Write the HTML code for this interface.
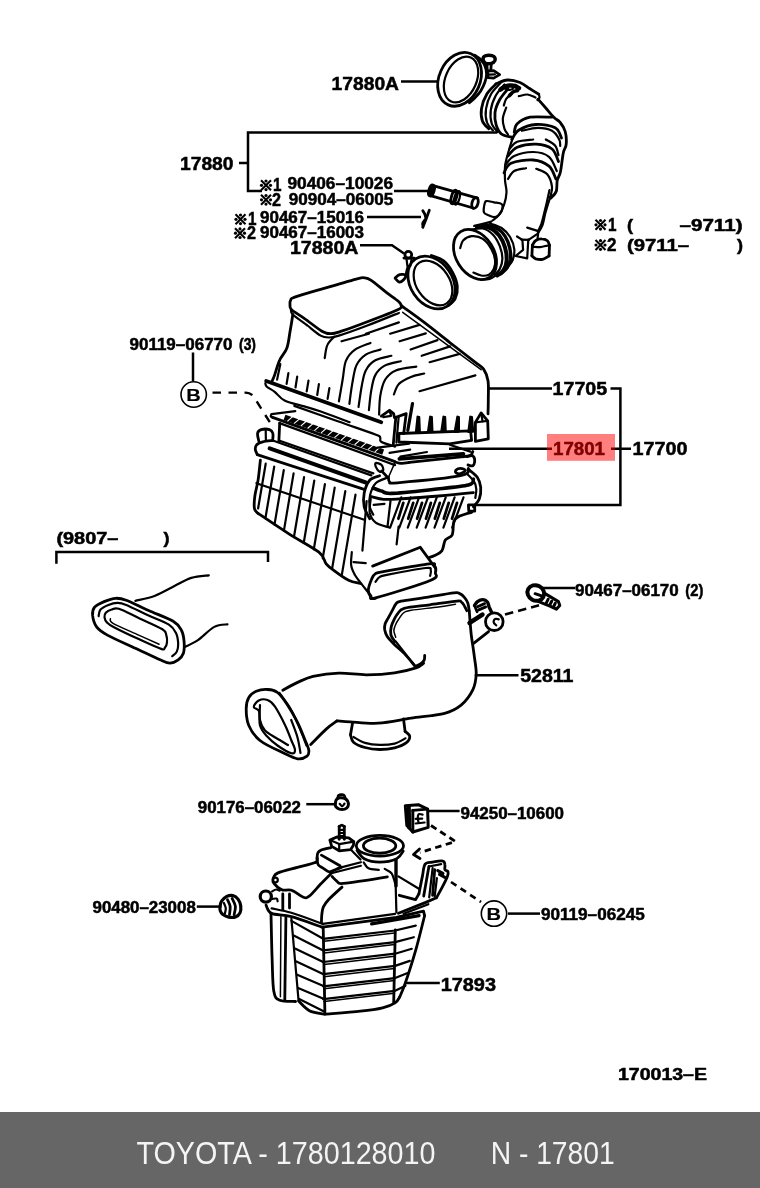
<!DOCTYPE html>
<html><head><meta charset="utf-8"><title>TOYOTA 1780128010</title>
<style>
html,body{margin:0;padding:0;background:#fff;}
body{width:760px;height:1188px;overflow:hidden;font-family:"Liberation Sans",sans-serif;}
svg{display:block;position:absolute;left:0;top:0;}
.tx{filter:grayscale(1);}
text{font-family:"Liberation Sans",sans-serif;font-weight:bold;fill:#000;stroke:#000;stroke-width:.5px;}
.ft text{font-weight:normal;fill:#f4f4f4;stroke:none;}
.l{fill:none;stroke:#000;stroke-width:2.2;stroke-linecap:round;stroke-linejoin:round;}
.t{fill:none;stroke:#000;stroke-width:1.5;stroke-linecap:round;stroke-linejoin:round;}
.k{fill:none;stroke:#000;stroke-width:2.8;stroke-linecap:round;stroke-linejoin:round;}
.w{fill:#fff;stroke:#000;stroke-width:2.2;stroke-linecap:round;stroke-linejoin:round;}
.ld{fill:none;stroke:#000;stroke-width:2.5;stroke-linecap:butt;}
.d{fill:none;stroke:#000;stroke-width:2;stroke-dasharray:9 6;}
</style></head><body>
<svg width="760" height="1188" viewBox="0 0 760 1188">
<rect x="0" y="0" width="760" height="1188" fill="#fff"/>
<!-- labels -->
<g class="tx"><g font-size="18">
<text x="331.6" y="90" textLength="67.4" lengthAdjust="spacingAndGlyphs">17880A</text>
<text x="180" y="169.5" textLength="53.5" lengthAdjust="spacingAndGlyphs">17880</text>
<text x="290" y="254" textLength="68.5" lengthAdjust="spacingAndGlyphs">17880A</text>
<text x="552.6" y="394.5" textLength="54.5" lengthAdjust="spacingAndGlyphs">17705</text>
<text x="553" y="455" textLength="52" lengthAdjust="spacingAndGlyphs">17801</text>
<text x="632.6" y="455" textLength="55" lengthAdjust="spacingAndGlyphs">17700</text>
<text x="520.2" y="681.8" textLength="53.3" lengthAdjust="spacingAndGlyphs">52811</text>
<text x="440.7" y="990.5" textLength="55.3" lengthAdjust="spacingAndGlyphs">17893</text>
</g>
<g font-size="16">
<g transform="translate(266 185.3)"><path d="M-5 -5L5 5M5 -5L-5 5" stroke="#000" stroke-width="2.1" fill="none"/><circle cx="0" cy="-4.3" r="1.6"/><circle cx="0" cy="4.3" r="1.6"/><circle cx="-4.5" cy="0" r="1.6"/><circle cx="4.5" cy="0" r="1.6"/></g><text font-size="18" x="273" y="191" textLength="8.5" lengthAdjust="spacingAndGlyphs">1</text>
<text x="287.5" y="189" textLength="105.5" lengthAdjust="spacingAndGlyphs">90406–10026</text>
<g transform="translate(266 199.8)"><path d="M-5 -5L5 5M5 -5L-5 5" stroke="#000" stroke-width="2.1" fill="none"/><circle cx="0" cy="-4.3" r="1.6"/><circle cx="0" cy="4.3" r="1.6"/><circle cx="-4.5" cy="0" r="1.6"/><circle cx="4.5" cy="0" r="1.6"/></g><text font-size="18" x="272" y="205.5" textLength="9" lengthAdjust="spacingAndGlyphs">2</text>
<text x="288.7" y="204.5" textLength="104.5" lengthAdjust="spacingAndGlyphs">90904–06005</text>
<g transform="translate(240.5 219.3)"><path d="M-5 -5L5 5M5 -5L-5 5" stroke="#000" stroke-width="2.1" fill="none"/><circle cx="0" cy="-4.3" r="1.6"/><circle cx="0" cy="4.3" r="1.6"/><circle cx="-4.5" cy="0" r="1.6"/><circle cx="4.5" cy="0" r="1.6"/></g><text font-size="18" x="248" y="225" textLength="8.5" lengthAdjust="spacingAndGlyphs">1</text>
<text x="260" y="222.5" textLength="104" lengthAdjust="spacingAndGlyphs">90467–15016</text>
<g transform="translate(240 233.2)"><path d="M-5 -5L5 5M5 -5L-5 5" stroke="#000" stroke-width="2.1" fill="none"/><circle cx="0" cy="-4.3" r="1.6"/><circle cx="0" cy="4.3" r="1.6"/><circle cx="-4.5" cy="0" r="1.6"/><circle cx="4.5" cy="0" r="1.6"/></g><text font-size="18" x="247" y="239" textLength="9" lengthAdjust="spacingAndGlyphs">2</text>
<text x="260" y="237.5" textLength="104" lengthAdjust="spacingAndGlyphs">90467–16003</text>
<g transform="translate(600.5 224.8)"><path d="M-5 -5L5 5M5 -5L-5 5" stroke="#000" stroke-width="2.1" fill="none"/><circle cx="0" cy="-4.3" r="1.6"/><circle cx="0" cy="4.3" r="1.6"/><circle cx="-4.5" cy="0" r="1.6"/><circle cx="4.5" cy="0" r="1.6"/></g><text font-size="18" x="608" y="230.5" textLength="8.5" lengthAdjust="spacingAndGlyphs">1</text>
<text x="627" y="230.5" textLength="6" lengthAdjust="spacingAndGlyphs">(</text>
<text x="679.5" y="230.5" textLength="63" lengthAdjust="spacingAndGlyphs">–9711)</text>
<g transform="translate(600.5 245)"><path d="M-5 -5L5 5M5 -5L-5 5" stroke="#000" stroke-width="2.1" fill="none"/><circle cx="0" cy="-4.3" r="1.6"/><circle cx="0" cy="4.3" r="1.6"/><circle cx="-4.5" cy="0" r="1.6"/><circle cx="4.5" cy="0" r="1.6"/></g><text font-size="18" x="607" y="250.7" textLength="9.5" lengthAdjust="spacingAndGlyphs">2</text>
<text x="627" y="250.7" textLength="62" lengthAdjust="spacingAndGlyphs">(9711–</text>
<text x="737" y="250.7" textLength="6" lengthAdjust="spacingAndGlyphs">)</text>
<text x="129.5" y="350" textLength="103" lengthAdjust="spacingAndGlyphs">90119–06770</text>
<text x="239" y="350" textLength="17" lengthAdjust="spacingAndGlyphs">(3)</text>
<text x="56.4" y="543.7" textLength="62" lengthAdjust="spacingAndGlyphs">(9807–</text>
<text x="163.4" y="543.7" textLength="6" lengthAdjust="spacingAndGlyphs">)</text>
<text x="575" y="595.7" textLength="103.7" lengthAdjust="spacingAndGlyphs">90467–06170</text>
<text x="685.3" y="595.7" textLength="18" lengthAdjust="spacingAndGlyphs">(2)</text>
<text x="197.8" y="813" textLength="103.2" lengthAdjust="spacingAndGlyphs">90176–06022</text>
<text x="460.5" y="819" textLength="103.5" lengthAdjust="spacingAndGlyphs">94250–10600</text>
<text x="92.5" y="913.2" textLength="103.3" lengthAdjust="spacingAndGlyphs">90480–23008</text>
<text x="541" y="920" textLength="103.7" lengthAdjust="spacingAndGlyphs">90119–06245</text>
<text x="618" y="1079.9" textLength="89" lengthAdjust="spacingAndGlyphs">170013–E</text>
</g>
<!-- B circles -->
<circle cx="193.7" cy="394.5" r="12.7" fill="#fff" stroke="#000" stroke-width="1.6"/>
<text x="186.3" y="400.6" font-size="17" style="stroke-width:.15px" textLength="14.5" lengthAdjust="spacingAndGlyphs">B</text>
<circle cx="494" cy="913.6" r="12.7" fill="#fff" stroke="#000" stroke-width="1.6"/>
<text x="486.6" y="919.8" font-size="17" style="stroke-width:.15px" textLength="14.5" lengthAdjust="spacingAndGlyphs">B</text>
</g>

<!-- leaders -->
<g class="ld">
<path d="M401 81.6H438"/>
<path d="M239 163H248M497 132.5H248V191H262"/>
<path d="M394 191H429"/>
<path d="M367 217H421"/>
<path d="M360 245.3H392L404 253.5"/>
<path d="M193 352.5V381"/>
<path d="M489 388.6H552M610.5 388.6H620.4V505H476"/>
<path d="M449 448.8H552M611 448.8H631"/>
<path d="M56.4 563.7V552H268V562"/>
<path d="M540.6 588H575"/>
<path d="M474.8 675.3H518.5"/>
<path d="M306.3 804.2H335"/>
<path d="M429 811H459.6"/>
<path d="M196.8 906.6H221.4"/>
<path d="M508 913.6H540"/>
<path d="M405 983H439.8"/>
</g>
<path class="d" d="M212.5 392.6H245Q251.5 392.6 254.5 398L270 422.5" style="stroke-width:2.4;stroke-dasharray:8.5 7.5"/>
<path class="d" d="M505 614.5L539 605.3" style="stroke-width:2.6;stroke-dasharray:8.5 5"/>
<path class="d" d="M431 825.5L455.5 841.5L420 852.5" style="stroke-width:2.8;stroke-dasharray:6.5 4.5"/>
<path d="M419.5 849L413.5 854.5L420 858.5" class="k"/>
<path class="d" d="M451 882L481 902" style="stroke-width:2.7;stroke-dasharray:6.5 5"/>

<!-- hose -->
<path class="k" d="M496.2 83.8C494.7 85.4 489.5 89.6 487 93.8C484.5 97.9 482.2 104.2 481.5 108.8C480.8 113.3 481.3 117.9 482.5 121.2C483.7 124.6 487.7 127.5 488.8 128.8"/>
<path class="l" d="M500.5 83C499 84.8 493.7 89.5 491.2 93.8C488.8 98 486.7 104 486 108.8C485.3 113.5 485.8 118.9 487 122.5C488.2 126.1 492 129.2 493 130.5"/>
<path class="l" d="M504.5 84.5C503 86.3 498 91.2 495.8 95.5C493.5 99.8 491.4 105.3 490.8 110C490.1 114.7 490.6 120.1 491.8 123.8C492.9 127.4 496.5 130.6 497.5 132"/>
<path class="k" d="M508 88.8C506.6 90.6 501.7 96 499.5 100C497.3 104 495.5 108.3 495 112.5C494.5 116.7 495.2 121.5 496.2 125C497.3 128.5 498.5 131.7 501.2 133.8C504 135.8 510.6 136.9 512.5 137.5"/>
<path class="k" d="M496.2 83.8C498.1 83.1 503.5 80.2 507.5 80C511.5 79.8 516.2 81 520 82.5C523.8 84 526.9 86.8 530 88.8C533.1 90.7 537.3 93.3 538.8 94.2"/>
<path class="k" d="M538 99.2C539.3 100.7 543.1 105 545.8 108C548.4 111 551.3 114.8 553.8 117.2C556.2 119.7 558.3 120.1 560.2 122.5C562.2 124.9 564.2 127.9 565.2 131.5C566.2 135.1 566.5 140.8 566.2 144.2C566 147.7 564.2 149.1 563.5 152C562.8 154.9 562.5 158 562 161.5C561.5 165 561 169.6 560.2 172.8C559.5 175.9 557.9 177.4 557.2 180.5C556.6 183.6 557.3 188.5 556.2 191.5C555.2 194.5 551.7 197.1 550.8 198.2"/>
<path class="l" d="M538.8 94.2C538.9 94.8 539.7 96.5 539.5 97.5C539.3 98.5 537.8 99.6 537.5 100"/>
<path class="k" d="M500.5 89.5C501.2 89 503.5 87.2 505 86.5C506.5 85.8 507.8 85.6 509.5 85.5C511.2 85.4 513.4 85.5 515 86C516.6 86.5 518.3 87.9 519 88.2" style="stroke-width:4.6"/>
<path class="k" d="M509.5 95.5C510.1 94.9 511.7 92.8 513 92C514.3 91.2 516.8 90.8 517.5 90.5" style="stroke-width:3.6"/>
<path class="l" d="M506.2 107.5C505.7 109.4 503 115.2 502.8 118.8C502.5 122.3 503.6 126.1 504.5 128.8C505.4 131.4 507.4 133.5 508 134.5"/>
<path class="l" d="M512 93.8C511 94.6 507.6 96.8 506.2 98.8C504.9 100.7 504.2 104.4 503.8 105.5"/>
<path class="l" d="M502.5 87.5C503.5 87.9 507 89.8 508.8 90C510.5 90.2 512.3 89 513 88.8"/>
<path class="l" d="M518.8 96.2C520.2 96 524.7 94.3 527.5 94.5C530.3 94.7 534.2 97 535.5 97.5"/>
<path class="k" d="M514.2 132.2C514.8 130.8 514.6 126.2 517.2 123.8C519.9 121.2 524.2 118.3 530 117.2C535.8 116.2 548.3 117.2 552 117.2"/>
<path class="k" d="M511.8 139.5C513 137.9 514.9 132.5 519 130C523.1 127.5 530.2 124.9 536.2 124.5C542.3 124.1 551 125.5 555.2 127.8C559.5 130 560.5 136.3 561.5 138"/>
<path class="l" d="M522 130.8C524.7 130.2 533 127.8 538 127.8C543 127.8 548.5 128.8 552 130.8C555.5 132.7 557.9 137 559.2 139.5C560.6 142 560.1 144.7 560.2 145.8"/>
<path class="l" d="M509.5 149C510.8 147.8 513.3 143.3 517.2 141.8C521.2 140.2 530.6 139.9 533.2 139.5"/>
<path class="l" d="M545.8 139.5C547.3 140.5 553.1 143.1 555.2 145.8C557.4 148.4 558 153.7 558.5 155.2"/>
<path class="k" d="M508 156C509.5 154.5 512.5 149.2 517.2 147.2C522 145.3 530.5 144 536.2 144.2C542 144.5 548.3 146.1 552 149C555.7 151.9 557.4 159.4 558.5 161.5"/>
<path class="l" d="M505.5 164.8C507 163.3 509.6 158.1 514.2 156C518.9 153.9 527.5 151.9 533.2 152C539 152.1 545.1 153.6 549 156.8C552.9 159.9 555.5 168.6 556.8 171"/>
<path class="k" d="M504 172.8C505.2 171.2 506.1 165.4 511 163.2C515.9 161.1 526.9 159.5 533.2 160C539.6 160.5 545.2 163.1 549 166.2C552.8 169.4 554.8 176.9 556 179"/>
<path class="l" d="M508 179C509 177.7 511.2 172.8 514.2 171C517.2 169.2 524 168.7 526 168.2"/>
<path class="l" d="M536.2 168.8C538.1 169.7 544.6 171.2 547.2 174.2C549.9 177.2 551.5 183.1 552 186.8C552.5 190.4 550.8 194.7 550.5 196.2"/>
<path class="l" d="M513 137.5C512.3 139.6 510.3 145.4 509 150C507.7 154.6 505.9 160 505.2 165C504.6 170 504.8 175.4 505 180C505.2 184.6 506.7 188.3 506.5 192.5C506.3 196.7 505.3 201.2 504 205C502.7 208.8 500.7 212.4 498.8 215C496.8 217.6 493.5 219.6 492.5 220.5"/>
<path class="l" d="M550 198C549.2 200.4 546.8 208 545.5 212.5C544.2 217 543.8 221.6 542.5 225C541.2 228.4 538.8 231.7 538 233"/>
<ellipse class="k" cx="475" cy="254.5" rx="27" ry="19" transform="rotate(58 475 254.5)"/>
<path class="l" d="M460.2 248.2C460.7 246.9 461.2 242.5 463.1 240.5C465 238.5 468.4 236.5 471.6 236.2C474.9 235.9 479.5 236.6 482.8 238.8C486 240.9 489.3 245.4 491.3 249C493.4 252.6 494.7 256.9 495.1 260.1C495.5 263.4 494.9 266.3 493.9 268.7C492.8 271.1 490.9 273.5 488.8 274.7C486.6 275.8 483.6 275.9 481.1 275.5C478.5 275.2 474.6 273.1 473.4 272.6"/>
<path class="l" d="M470.8 229.7C472.8 229.5 479.1 227.6 482.8 228.5C486.5 229.3 490.2 231.8 493 234.8C495.9 237.8 498.3 242.5 499.9 246.4C501.4 250.4 502.4 254.7 502.4 258.4C502.4 262.1 501.2 266 499.9 268.7C498.6 271.4 495.6 273.7 494.7 274.7"/>
<path class="k" d="M476.8 226.8C478.9 227 485.9 226.5 489.6 228C493.3 229.4 496.4 232.1 499 235.3C501.6 238.6 503.7 243.2 505 247.3C506.3 251.4 506.9 256.3 506.7 260.1C506.5 263.9 505.2 267.5 503.6 270.1C502.1 272.6 498.4 274.6 497.3 275.5" style="stroke-width:4"/>
<path class="k" d="M483.6 225.1C485.8 225.6 492.9 226.1 496.4 228C500 229.8 502.8 232.8 505 236.2C507.2 239.5 508.9 244.3 509.8 248.2C510.7 252 510.9 256 510.5 259.3C510 262.6 508.7 265.4 507.1 267.8C505.4 270.3 501.8 272.8 500.7 273.8" style="stroke-width:3.4"/>
<path class="l" d="M489.6 223.4C491.6 224.1 498.2 225.7 501.6 228C505 230.3 508 233.4 510.1 237C512.3 240.7 514 246 514.4 249.9C514.8 253.7 513.7 257.4 512.7 260.1C511.7 262.8 509.1 265.1 508.4 266.1"/>
<path class="l" d="M474.2 225.9C475.6 225.6 479.9 224.6 482.8 223.9C485.6 223.2 489.9 222 491.3 221.6"/>
<path class="l" d="M481.1 279.8C482.5 279.7 487 279.7 489.6 278.9C492.2 278.1 495.3 275.7 496.4 275"/>
<path class="l" d="M486.2 201.1C487.8 200.5 491.3 201.8 493.9 202.3C496.4 202.8 500.2 202.9 501.6 204C503 205.1 502.7 207.2 502.4 208.8C502.1 210.5 501.1 212.6 499.9 213.9C498.6 215.3 496.9 216.8 495.1 217C493.2 217.3 490.6 216.1 488.8 215.3C486.9 214.6 484.7 214.1 484 212.6C483.2 211.1 483.8 208.2 484.1 206.2C484.5 204.3 484.6 201.8 486.2 201.1Z"/>
<path class="l" d="M517 236.5L522.4 239.9L523.1 249.9L515.6 256L527.2 258.4L528.3 239.6"/>
<path class="l" d="M521.2 239.6L528.9 239.9"/>
<path class="k" d="M532.4 245.1C532.9 244.3 534.2 241.5 535.8 240.5C537.4 239.4 539.8 238.7 541.8 238.8C543.7 238.8 546.1 239.7 547.4 240.8C548.7 241.9 549.1 244.4 549.5 245.1"/>
<path class="k" d="M532.4 245.1L531.9 255.9"/>
<path class="k" d="M549.5 245.1L549.1 255.9"/>
<path class="k" d="M531.9 255.9C532.5 256.3 534 258.2 535.8 258.8C537.6 259.3 540.4 259.8 542.6 259.3C544.9 258.8 548 256.4 549.1 255.9"/>
<path class="l" d="M533.2 246.8C534.4 246.8 537.7 247.3 540.1 247.1C542.4 246.9 546.2 245.8 547.4 245.6"/>
<path class="l" d="M527.2 227.6L538.4 231.1L537.5 239.1"/>
<path class="l" d="M528.9 239.6L537.8 233.6"/>
<path class="l" d="M556.8 190C556.3 190.9 555 193.9 553.8 195.1C552.5 196.3 550.2 196.8 549.5 197.2"/>
<path class="l" d="M549.5 190C549 192 547.8 198 546.9 202C546 206 544.9 210.2 544 213.9C543.1 217.7 542.3 221.2 541.3 224.2C540.2 227.2 538.4 230.6 537.8 231.9"/>

<!-- clamps -->
<ellipse class="k" cx="459.6" cy="79.3" rx="20.5" ry="28" transform="rotate(24 459.6 79.3)"/>
<ellipse class="l" cx="461" cy="79.5" rx="15.5" ry="24" transform="rotate(24 461 79.5)"/>
<path class="k" d="M474.7 55.2C475.7 55.9 479 57.8 480.7 59.5C482.3 61.3 483.8 63 484.8 65.5C485.8 67.9 486.6 71.5 486.6 74.3C486.6 77.2 485.8 79.9 484.8 82.6C483.8 85.4 482.3 88.4 480.7 90.9C479 93.5 476.6 96.1 474.7 98C472.9 100 470.3 102 469.4 102.8"/>
<path class="k" d="M484 56.6C484.9 55.8 487.3 55.2 488.9 55.2C490.6 55.2 492.9 55.7 493.9 56.6C494.9 57.5 495.3 59.6 494.9 60.7C494.4 61.9 492.9 63.1 491.3 63.4C489.7 63.8 486.7 63.6 485.4 63.1C484.1 62.5 483.5 61.2 483.3 60.1C483 59 483 57.4 484 56.6Z" style="stroke-width:3.4"/>
<path class="k" d="M486.8 63.7L487.3 71"/>
<path class="k" d="M491.3 63.7L490.8 70.2"/>
<path class="k" d="M487.8 71L493.7 70.6L499.6 74.6L493.7 78.1L488 77.7Z"/>
<path class="l" d="M489.5 74.6L494.9 74.3"/>
<ellipse class="k" cx="431.5" cy="282.5" rx="28.5" ry="21" transform="rotate(56 431.5 282.5)"/>
<ellipse class="l" cx="433" cy="283" rx="24.5" ry="16.5" transform="rotate(56 433 283)"/>
<path class="k" d="M431.3 255.5C433.3 256.4 439.7 257.8 443.3 260.7C446.9 263.5 450.4 268.4 452.7 272.6C455 276.9 456.9 282 457.3 286.3C457.7 290.6 456.7 295.1 455.3 298.3C453.8 301.5 449.6 304.3 448.4 305.5"/>
<circle class="k" cx="408.3" cy="254.8" r="3.4"/>
<path class="k" d="M403.9 258.1L414.2 258.1"/>
<path class="l" d="M406.5 258.9L407.4 265.8"/>
<path class="l" d="M411.6 258.9L410.4 265.8"/>
<path class="l" d="M408.2 265.8C407.9 266.6 406.9 269.2 406.5 270.9C406.1 272.6 405.8 275.2 405.7 276.1"/>
<path class="k" d="M395.1 278.1C395.8 277.5 397.9 275.2 399.7 274.7C401.4 274.2 404.9 274.4 405.7 275.2C406.4 276 405 278.3 403.9 279.5C402.9 280.6 400.6 282.3 399.2 282C397.7 281.8 395.7 278.8 395.1 278.1"/>
<ellipse class="k" cx="431.5" cy="190.5" rx="2.6" ry="5.6" transform="rotate(16 431.5 190.5)" fill="#000" style="fill:#000"/>
<path class="k" d="M432.2 185.4L477.5 198.2"/>
<path class="k" d="M430.5 195.7L473.2 208"/>
<ellipse class="k" cx="475" cy="203" rx="3" ry="5.6" transform="rotate(16 475 203)"/>
<ellipse class="k" cx="454" cy="197" rx="2.6" ry="7" transform="rotate(16 454 197)"/>
<ellipse class="l" cx="457" cy="197.8" rx="2.6" ry="7" transform="rotate(16 457 197.8)"/>
<path class="k" d="M429.3 210.2C428.8 211.5 427.6 215 426.5 217.9C425.4 220.7 423.4 225.7 422.8 227.3"/>
<path class="k" d="M422.8 210.7C423.1 211.3 424.3 212.9 424.8 214.1C425.3 215.3 425.7 217.3 425.8 217.9"/>
<path class="l" d="M424.8 219.6C424.4 220.2 422.7 222.1 422.4 223.4C422.1 224.7 423 226.6 423.1 227.3"/>

<!-- cover -->
<path class="k" d="M290 305C289.8 303.4 289.8 301.6 290.6 300.3C291.4 298.9 289.3 299.1 294.7 297.1C300.2 295.2 312.9 291.6 323.2 288.6C333.4 285.6 349.5 280.9 356.3 279.1C363.2 277.3 361.7 277.6 364.2 277.8C366.7 278.1 367.5 277.9 371.2 280.4C374.8 282.8 381.8 288.9 386.3 292.4C390.8 295.8 395.8 299 398.3 301.2C400.8 303.4 401.3 304.2 401.2 305.6C401.1 307.1 403.3 307.1 397.7 309.7C392.1 312.4 376.7 318.2 367.4 321.7C358 325.3 347.5 329.2 341.5 331.2C335.4 333.2 334.3 333.7 331.1 333.7C327.8 333.7 326.4 333.8 321.9 331.2C317.4 328.6 309.3 321.8 304.2 318.3C299.2 314.7 293.9 311.9 291.6 309.7C289.2 307.5 290.2 306.6 290 305Z"/>
<path class="l" d="M290.9 309.7C291.3 310.5 290.1 311.8 292.8 314.5C295.6 317.1 302.7 322 307.4 325.5C312 329.1 317.1 333.6 320.6 335.6C324.2 337.6 325.8 337.5 328.8 337.5C331.9 337.5 332.5 337.6 338.9 335.6C345.4 333.6 357.4 329.3 367.4 325.5C377.4 321.7 393.7 315 398.9 312.9"/>
<path class="k" d="M292.8 314.5C292.4 317.4 291 326.2 290 331.8C289 337.5 288.6 343.5 286.8 348.3C285.1 353 281.6 355.7 279.6 360.3C277.5 364.8 275.8 371.9 274.5 375.4C273.3 378.9 272.4 380.2 272 381.1"/>
<path class="k" d="M401.2 305.6C405 308.4 416.2 316.3 424.2 322.4C432.3 328.5 441.1 335.7 449.5 342.3C457.9 348.8 469.1 357.4 474.7 361.8C480.4 366.3 481.4 365.9 483.6 369.1C485.8 372.3 487.2 375.9 488 380.8C488.8 385.6 488.3 392.6 488.3 398.2C488.3 403.7 488.1 411.3 488 413.9"/>
<path class="t" d="M402.7 312.3L481.1 369.7"/>
<path class="l" d="M324.7 358.1C325.2 355.9 325.7 348.7 327.3 345.1C328.8 341.5 333.1 338 334.2 336.6"/>
<path class="l" d="M338.9 401.3C339.6 397.6 341.6 385.9 342.7 379.2C343.9 372.5 343.9 365.8 345.9 360.9C347.9 356 350.6 352.8 354.7 349.8C358.8 346.8 367.9 344.1 370.5 342.9"/>
<path class="l" d="M349.4 403.8C349.8 400.5 351.1 390.3 352.2 383.9C353.4 377.6 354.1 370.5 356.3 365.6C358.6 360.7 361.7 357.3 365.8 354.6C369.8 351.9 378.2 350.4 380.6 349.5"/>
<path class="l" d="M358.5 407C359.1 403.5 360.5 392.3 361.7 386.2C362.9 380.1 363.5 374.7 365.8 370.4C368.1 366.1 371 362.7 375.3 360.3C379.5 357.8 388.7 356.6 391.4 355.8"/>
<path class="l" d="M368.9 410.2C369.3 406.9 370.1 396.7 371.2 390.9C372.2 385.1 373 379.3 375.3 375.1C377.5 370.9 380.5 367.9 384.7 365.6C389 363.3 398.2 361.9 400.8 361.2"/>
<path class="l" d="M379.1 414.6C379.3 411.4 379.3 401.4 380.3 395.6C381.3 389.8 382.5 384.1 385.1 379.8C387.6 375.6 390.6 372.6 395.8 370.4C401 368.2 412.9 367.2 416.3 366.6"/>
<path class="l" d="M393.9 394.4C394.7 392.6 396 386.9 398.9 383.9C401.9 381 407.4 378.4 411.6 376.7C415.8 374.9 422.1 374.1 424.2 373.5"/>
<path class="l" d="M341.5 341.3L368.9 333.7"/>
<path class="l" d="M365.8 333.7L398.9 322.4"/>
<path class="l" d="M390.1 333.7L419.5 324.9"/>
<path class="l" d="M399.6 341.3L425.8 333.4"/>
<path class="l" d="M410.6 349.5L437.5 340.1"/>
<path class="l" d="M421.7 355.8L450.1 346.4"/>
<path class="l" d="M429.6 362.2L459.6 353.9"/>
<path class="l" d="M419.5 391.2L475.4 375.4"/>
<path class="l" d="M416 431.9L417.6 416.7L419.2 417.1L419.8 431.6Z" style="fill:#000"/>
<path class="l" d="M428 431.9L430.2 416.7L431.8 417.1L432.4 431.6Z" style="fill:#000"/>
<path class="l" d="M441.3 431.9L443.5 416.7L445.1 417.1L445.7 431.6Z" style="fill:#000"/>
<path class="l" d="M454.7 431.9L457.4 416.7L458.9 417.1L458.9 431.6Z" style="fill:#000"/>
<path class="l" d="M468.4 431.9L470.3 416.7L471.9 417.1L473.2 431.6Z" style="fill:#000"/>
<path class="k" d="M412.5 403.5L407.8 430.3" style="stroke-width:3.2"/>
<path class="k" d="M398.9 433.5L470.6 430.9L471.6 440.4L449.5 443.9L398.9 442Z"/>
<path class="k" d="M475.4 422.4L481.1 412.9L487.7 420.8L488.3 438.8L475.4 441.4Z"/>
<path class="l" d="M475.4 422.4L482.6 421.5L487.7 420.8"/>
<path class="l" d="M481.1 412.9L482.6 421.5"/>
<path class="l" d="M470.6 430.9L475.4 430"/>
<path class="k" d="M381.3 416.1L389.5 410.4L393.6 413.6L394.5 417.7L406.2 413.6L403.7 433.5"/>
<path class="l" d="M383.2 417.1L391.1 415.8L389.5 410.4"/>
<path class="k" d="M395.8 417.7L393.3 444.2"/>
<path class="l" d="M398.6 417.4L396.4 442.6"/>
<path class="k" d="M266.2 381L381.3 422.2" style="stroke-width:3.8"/>
<path class="l" d="M265.3 383.2C265.5 383.8 265.3 385.3 266.8 386.7C268.4 388.2 271.8 389.5 274.7 391.8C277.7 394.1 279.7 398.1 284.6 400.5C289.5 403 298.4 404.7 304.3 406.4C310.3 408.2 312.6 408.6 320.1 411.2C327.7 413.8 344.8 420.4 349.7 422.2"/>
<path class="l" d="M286.6 383.9L288.4 373.1"/>
<path class="l" d="M295.5 387.5L297.2 376.6"/>
<path class="l" d="M306.7 391.4L308.5 380.6"/>
<path class="l" d="M317.2 395L318.9 384.1"/>
<path class="l" d="M327.6 398.9L329.4 388.1"/>
<path class="l" d="M277.1 379.6L280.3 364.2"/>

<!-- filter -->
<path class="l" d="M271.6 414.2L295.3 411.1"/>
<path class="l" d="M271.6 414.2C271.5 414.5 270.5 415.6 270.7 416.2C270.8 416.8 272.3 417.5 272.6 417.8"/>
<path class="k" d="M272.6 417.4L395 461.6"/>
<path class="l" d="M279.5 423.1L395 465.1"/>
<path class="k" d="M279.7 423.1L278.9 440.5"/>
<path class="l" d="M278.9 440.5L373.3 473.4"/>
<path class="k" d="M284.5 417.4L383.2 452.1" style="stroke-width:5.6;stroke-linecap:butt"/>
<path class="t" d="M287.8 420.9L292.6 416.7" style="stroke-width:1.1;stroke:#fff;stroke:#fff"/>
<path class="t" d="M294.5 423.2L299.3 419.1" style="stroke-width:1.1;stroke:#fff;stroke:#fff"/>
<path class="t" d="M301.2 425.6L306 421.5" style="stroke-width:1.1;stroke:#fff;stroke:#fff"/>
<path class="t" d="M308 428L312.7 423.8" style="stroke-width:1.1;stroke:#fff;stroke:#fff"/>
<path class="t" d="M314.7 430.3L319.4 426.2" style="stroke-width:1.1;stroke:#fff;stroke:#fff"/>
<path class="t" d="M321.4 432.7L326.1 428.5" style="stroke-width:1.1;stroke:#fff;stroke:#fff"/>
<path class="t" d="M328.1 435.1L332.8 430.9" style="stroke-width:1.1;stroke:#fff;stroke:#fff"/>
<path class="t" d="M334.8 437.4L339.5 433.3" style="stroke-width:1.1;stroke:#fff;stroke:#fff"/>
<path class="t" d="M341.5 439.8L346.2 435.6" style="stroke-width:1.1;stroke:#fff;stroke:#fff"/>
<path class="t" d="M348.2 442.1L353 438" style="stroke-width:1.1;stroke:#fff;stroke:#fff"/>
<path class="t" d="M354.9 444.5L359.7 440.4" style="stroke-width:1.1;stroke:#fff;stroke:#fff"/>
<path class="t" d="M361.6 446.9L366.4 442.7" style="stroke-width:1.1;stroke:#fff;stroke:#fff"/>
<path class="t" d="M368.4 449.2L373.1 445.1" style="stroke-width:1.1;stroke:#fff;stroke:#fff"/>
<path class="t" d="M375.1 451.6L379.8 447.4" style="stroke-width:1.1;stroke:#fff;stroke:#fff"/>
<path class="l" d="M294.3 405.9C301.6 408.5 324.3 416.5 337.8 421.3C351.3 426.1 368.2 431.8 375.3 434.5C382.3 437.2 379.2 436.3 380.2 437.5C381.2 438.7 378.7 440.3 381.2 441.8C383.7 443.4 392.7 445.8 395 446.6"/>
<path class="k" d="M258.8 441.1C258.6 439.7 257.2 435.1 257.6 433.2C258 431.2 259.2 430.2 261.2 429.6C263.2 429 267.5 429 269.5 429.6C271.4 430.2 272.3 431.5 272.8 433.2C273.4 434.8 272.8 438.4 272.8 439.5"/>
<path class="l" d="M265.7 430L265.9 440.5"/>
<path class="k" d="M272.8 440.5C271.2 440.7 265.4 441.2 262.8 441.8C260.1 442.5 258.1 443.4 256.8 444.6C255.6 445.9 255.2 447.7 255.3 449.3C255.3 451 256.9 453.5 257.2 454.3"/>
<path class="l" d="M272.8 440.5L371.3 475.4"/>
<path class="k" d="M269.7 448.4L365.8 482.5" style="stroke-width:4"/>
<path class="k" d="M257.2 454.7L363.4 489.2"/>
<path class="k" d="M395 462C396.1 462.3 398.9 463.4 401.3 463.4C403.7 463.5 407.9 462.6 409.2 462.4"/>
<path class="k" d="M409.2 462.4L463.5 456.7"/>
<path class="k" d="M463.5 456.7C464.7 456.4 469.2 456 470.8 455.1C472.3 454.3 472.4 452.2 472.8 451.6"/>
<path class="l" d="M449.7 444.7L470.4 451.6"/>
<path class="k" d="M399.3 458.9L463.5 453.9" style="stroke-width:3.6"/>
<path class="l" d="M389.5 452.8L410.2 449.6"/>
<path class="l" d="M400.3 456.7L427 452"/>
<path class="l" d="M377.6 447.6L409.2 443.7"/>
<path class="k" d="M388.5 477.2C388.7 478 388 480.7 389.5 481.6C391 482.5 385.5 483.8 397.4 482.8C409.2 481.8 448.7 478.1 460.5 475.7C472.4 473.3 467.1 469.6 468.4 468.4"/>
<path class="t" d="M395 462.4L388.5 477.2"/>
<path class="l" d="M375.7 463C376.6 462.6 380.3 463.8 381.6 465C382.8 466.2 383.5 469.2 383.2 470.3C382.8 471.4 380.8 472.2 379.6 471.7C378.4 471.2 376.7 468.8 376.1 467.4C375.4 465.9 374.7 463.4 375.7 463Z"/>
<path class="k" d="M381.6 470.9L387.5 477.2"/>
<path class="k" d="M379.6 475.7C378 476.4 372.3 477.3 369.7 480.2C367.2 483.1 365.1 488.6 364.2 493C363.3 497.5 363.3 502.6 364.2 506.8C365.1 511.1 368.8 516.7 369.7 518.7"/>
<path class="l" d="M387.5 477.6C385.5 478.6 378.6 480.3 375.7 483.2C372.8 486.1 371.1 491.1 370.1 495C369.1 498.9 369.2 503.6 369.7 506.8C370.3 510.1 372.7 513.4 373.3 514.7"/>
<path class="k" d="M373.3 488.1C374.7 488.6 378.6 490.2 381.6 491.1C384.6 491.9 382.9 493.7 391.4 493.4C400 493.2 420.1 490.9 432.9 489.5C445.7 488.1 461.7 486.8 468.4 485.1C475.2 483.4 472.5 480.2 473.4 479.2" style="stroke-width:3.6"/>
<path class="k" d="M371.3 496.6C373.4 497 378.9 498.9 383.6 499.3C388.2 499.7 390.1 499.5 399.3 498.9C408.6 498.4 426.5 497 438.8 496C451.2 494.9 467.6 493.2 473.4 492.6"/>
<path class="k" d="M466.8 456.5C467.8 456.4 471.4 455.3 472.8 455.9C474.1 456.6 474.7 458.8 474.7 460.5C474.7 462.1 473.9 465 472.8 465.8C471.6 466.5 468.8 465.1 468 465"/>
<path class="k" d="M455.8 470.3C456.5 469.6 458.9 468.4 460.5 468.4C462.1 468.4 465.5 469.4 465.5 470.3C465.5 471.2 462.1 473.3 460.5 473.7C459 474.1 457 473.5 456.2 472.9C455.4 472.3 455.1 471.1 455.8 470.3Z"/>
<path class="k" d="M468.4 469.3C469.9 470.7 475.3 474.3 477.3 477.2C479.3 480.2 480.3 483.5 480.7 487.1C481 490.7 480.5 495.7 479.3 498.9C478.1 502.2 474.3 505.5 473.4 506.8"/>
<path class="l" d="M466.4 473.3C467.7 474.6 472.3 478.6 473.9 481.2C475.6 483.8 476.1 486.3 476.3 489.1C476.5 491.9 475.5 496.5 475.3 498"/>
<path class="k" d="M468.4 504.9L474.7 504.9L474.7 511.2L468.8 511.2Z"/>
<path class="l" d="M401.3 497.4L390.1 527.6"/>
<path class="l" d="M410.6 497.4L399.3 527.6"/>
<path class="l" d="M419.1 497.4L407.8 527.6"/>
<path class="l" d="M428 497.4L416.7 527.6"/>
<path class="l" d="M436.8 497.4L425.6 527.6"/>
<path class="l" d="M445.7 497.4L434.5 527.6"/>
<path class="l" d="M454.6 497.4L443.4 527.6"/>
<path class="l" d="M463.5 497.4L452.2 527.6"/>
<path class="k" d="M403.3 502.9L398.4 518.7"/>
<path class="k" d="M413.2 502.9L408.2 518.7"/>
<path class="k" d="M422 502.9L417.1 518.7"/>
<path class="k" d="M430.9 502.9L426 518.7"/>
<path class="k" d="M439.8 502.9L434.9 518.7"/>
<path class="k" d="M448.7 502.9L443.8 518.7"/>
<path class="k" d="M457 502.9L452 518.7"/>
<path class="l" d="M370.7 498.9C370.6 501.2 368.9 508.8 369.7 512.8C370.6 516.7 372.4 520.2 375.7 522.6C378.9 525.1 387.2 526.7 389.5 527.6"/>
<path class="l" d="M390.5 500.9L387.5 526.6"/>
<path class="l" d="M373.7 504.9L384.5 503.9"/>

<!-- case -->
<path class="k" d="M260.4 460.1C260 463.4 259 473.8 258.1 479.9C257.2 485.9 255.4 491.5 254.8 496.3C254.2 501.1 253.9 506 254.5 508.8C255 511.7 257.5 512.7 258.1 513.4"/>
<path class="k" d="M258.1 513.4C263.3 516.9 279.2 527.7 289.3 534.1C299.5 540.6 312.8 547.3 318.9 552.2C325.1 557.2 323.7 560.7 326.2 563.8C328.7 566.8 330 567.6 333.8 570.3C337.5 573.1 344.2 578 348.6 580.2C352.9 582.4 358.1 582.9 360.1 583.5"/>
<path class="l" d="M265.7 463.7L258.1 508.5"/>
<path class="l" d="M274.2 466.7L265.4 518.3"/>
<path class="l" d="M283.8 470L274.5 524.6"/>
<path class="l" d="M293.6 473.4L283.9 530.6"/>
<path class="l" d="M304.1 477L293.9 537.2"/>
<path class="l" d="M314.3 480.5L303.7 543"/>
<path class="l" d="M324.9 484.2L313.8 549.3"/>
<path class="l" d="M334.7 487.6L322.7 558.3"/>
<path class="l" d="M345.3 491.2L332 569.2"/>
<path class="l" d="M355.5 494.7L341.7 575.6"/>
<path class="l" d="M256.4 483.2L365 520"/>
<path class="l" d="M366.6 501.2L362.4 550.6"/>
<path class="l" d="M398.6 526.6L396.6 544.3"/>
<path class="l" d="M353.5 562.1L365.7 563.1"/>
<path class="l" d="M351.8 552.2C351.7 554.4 350.6 561.6 351.2 565.4C351.7 569.2 353.3 572 355.1 575.3C357 578.6 360.1 582.1 362.4 585.1C364.7 588.1 367.9 592 368.9 593.4"/>
<path class="k" d="M471.9 512.1C469.7 512.9 461.4 515.1 458.4 516.7C455.4 518.3 454.9 518.6 453.8 521.6C452.8 524.7 453.6 531.7 452.2 534.8C450.7 537.9 447 537.4 445.3 540.1C443.6 542.7 443.7 548 442 550.6C440.2 553.2 436.9 554.4 434.7 555.5C432.5 556.7 429.8 557.2 428.8 557.5"/>
<path class="k" d="M372.6 566.1L420.3 547.3L435.4 568"/>
<path class="k" d="M371.6 579.2C372.8 576.5 373.3 574.9 375.5 573.6C377.7 572.3 375.8 573 384.7 571.3C393.7 569.7 420.8 564.6 429.1 563.8C437.5 562.9 433.7 564.6 434.7 566.1C435.8 567.5 436.1 570.3 435.4 572.6C434.7 575 440.6 576 430.8 580.2C421 584.4 386.5 595.1 376.5 597.6C366.5 600.2 372.3 596.9 370.9 595.7C369.6 594.4 368.2 592.8 368.3 590.1C368.4 587.3 370.4 582 371.6 579.2Z"/>
<path class="l" d="M375.5 581.8C376.2 581 377.7 578.1 379.8 576.9C381.9 575.7 380.4 576.1 388 574.6C395.7 573.1 418.7 568.7 425.9 568C433 567.3 430.1 569 430.8 570.3C431.5 571.6 430.2 575 430.1 575.9"/>
<path class="k" d="M368.9 593.4C369.4 594.2 370.5 597.5 371.6 598.3C372.7 599.1 374.9 598.3 375.5 598.3"/>

<!-- duct -->
<path class="k" d="M415.3 666.4C413.5 664.3 407.8 657.2 404.2 653.4C400.6 649.7 396.8 646.9 393.9 644C391.1 641.2 388.6 638.7 387.1 636.3C385.6 633.9 385.1 631.9 384.7 629.8C384.4 627.8 384.5 625.9 385.1 624C385.6 622.1 386.8 620.6 388 618.4C389.2 616.1 390.9 613.1 392.2 610.7C393.6 608.2 394.5 605.4 396 603.8C397.5 602.2 396.1 602.3 401.1 601.2C406.2 600.2 417.7 598.7 426.4 597.3C435.2 595.9 448.3 593.5 453.8 592.9C459.4 592.2 458 592.8 459.8 593.6C461.6 594.3 463.1 595.7 464.4 597.3C465.8 598.9 467 600.7 467.8 603C468.6 605.2 469 609.4 469.2 610.7"/>
<path class="k" d="M394.8 641.4C394.1 640.4 391.5 637.4 390.9 634.9C390.3 632.5 390.6 629.5 391.2 626.9C391.8 624.3 393.2 621.4 394.3 619.2C395.4 617 396.1 615.6 397.7 613.7C399.4 611.9 398.9 609.7 404.2 608.3C409.6 606.8 421.1 606 429.9 604.8C438.6 603.6 451.6 601.5 456.9 601.1C462.2 600.6 460.3 601.3 461.5 602.1C462.8 602.9 463.5 604.4 464.4 605.9C465.3 607.3 466.4 609.9 466.8 610.7"/>
<path class="t" d="M395.7 637.2C395.4 636.2 394.1 633 393.9 631.2C393.8 629.3 394.1 628.2 395 626.1C395.8 623.9 397.5 620.8 399.1 618.5C400.6 616.2 402.2 613.7 404.2 612.4C406.2 611 405.4 611.2 411.1 610.3C416.8 609.4 431 607.9 438.4 606.9C445.8 605.9 452.7 604.6 455.5 604.2"/>
<path class="l" d="M415.3 666.4L395.7 641.4"/>
<path class="k" d="M415.3 666.4C416.2 666 419 665.1 420.5 664C421.9 663 423.3 661.7 424.1 660.3C424.8 658.8 424.6 656.3 424.7 655.5"/>
<path class="k" d="M469.3 611.3C469.6 615.2 470.4 626.9 471.2 634.3C472.1 641.7 473.4 649.1 474.2 655.7C475 662.3 476.4 668.2 476.2 673.8C476 679.5 475.4 684.4 472.9 689.6C470.4 694.8 465.8 701.1 461.1 705.1C456.3 709 452.9 711.1 444.6 713.3C436.3 715.5 422.1 716.6 411.1 718.2C400 719.9 388.3 722.6 378.2 723.2C368 723.8 357.1 722.2 350.2 721.8C343.3 721.5 339.2 721 337 720.9"/>
<path class="k" d="M282.8 690.3C285.2 688.9 292.5 684.7 297.6 682.4C302.6 680.1 306.2 678 313 676.4C319.9 674.9 329.7 673.4 338.7 673.2C347.6 672.9 357.3 674.9 366.6 674.8C376 674.7 386.4 674 394.6 672.8C402.8 671.7 411.2 669.5 416 667.9C420.8 666.3 422.3 664.1 423.6 663.3"/>
<path class="k" d="M337 720.9C335.2 722.2 330.6 725.1 326.2 729.1C321.8 733 313.3 742 310.7 744.5"/>
<path class="k" d="M246.2 708.8C246.2 704.1 247.1 700.4 248.8 697.5C250.4 694.6 253.1 692.6 256.2 691.2C259.4 689.9 264 689.3 267.5 689.5C271 689.7 274.2 689.9 277.5 692.5C280.8 695.1 284.2 700 287.5 705C290.8 710 294.6 716.7 297.5 722.5C300.4 728.3 303.1 735.4 305 740C306.9 744.6 308.4 747.3 308.8 750C309.1 752.7 308.9 754.8 307 756.2C305.1 757.7 301.6 759.4 297.5 758.8C293.4 758.1 288.8 755.5 282.5 752.5C276.2 749.5 265.6 745 260 740.5C254.4 736 251 730.8 248.8 725.5C246.5 720.2 246.2 713.4 246.2 708.8Z"/>
<path class="l" d="M253.8 707C253.7 705.2 256.5 701.7 258.8 700.5C261 699.3 264.8 699 267.5 700C270.2 701 272.1 702.3 275 706.5C277.9 710.7 282.3 719.4 285 725C287.7 730.6 289.6 735.8 291.2 740C292.9 744.2 295 747.8 295 750C295 752.2 294.4 754 291.5 753.2C288.6 752.5 281.7 748.5 277.5 745.5C273.3 742.5 269.2 738.8 266.2 735.5C263.3 732.2 261.2 729.5 260 725.5C258.8 721.5 260 714.3 259 711.2C258 708.2 253.8 708.8 253.8 707Z"/>
<path class="l" d="M260 705C260 707.5 259.2 715.8 260 720C260.8 724.2 262.3 727.5 265 730.5C267.7 733.5 272.4 735.6 276.2 738C280.1 740.4 286 743.8 288 745"/>
<path class="l" d="M291.2 720C292.3 722.9 296 732 297.5 737.5C299 743 300 750.4 300.5 753"/>
<path class="l" d="M279.5 693C281.5 695.8 287.8 703.8 291.2 710C294.8 716.2 298 724.1 300.5 730C303 735.9 305.5 742.9 306.5 745.5"/>
<path class="k" d="M352.5 723.2L350.5 734.7"/>
<path class="k" d="M403.5 718.9L405.1 731.4"/>
<path class="k" d="M350.5 734.7C351 735.9 351.1 740.1 353.5 742.2C355.9 744.4 360.6 746.3 365 747.5C369.4 748.7 374.9 749.4 379.8 749.5C384.7 749.5 390.2 748.9 394.6 747.8C399 746.7 403.6 744.8 406.1 742.9C408.6 741 409.9 738.2 409.7 736.3C409.6 734.4 405.9 732.2 405.1 731.4"/>
<path class="l" d="M353.5 737C355.4 738 360.6 741.6 365 742.9C369.4 744.2 374.9 744.8 379.8 744.9C384.7 745 390.3 744.6 394.6 743.6C398.9 742.5 403.7 739.2 405.5 738.3"/>
<path class="k" d="M474.5 605.5C475 604.9 476.1 602.6 477.5 601.6C478.9 600.6 481.4 599.5 483 599.6C484.7 599.7 486.3 600.7 487.4 602C488.4 603.3 488.6 605.8 489.3 607.5C490.1 609.2 491.3 611.6 491.7 612.4" style="stroke-width:3.4"/>
<path class="k" d="M474.5 605.5L477.1 611.8"/>
<path class="k" d="M477.5 606.7L484.6 603.6"/>
<path class="k" d="M478.7 609.9L485.8 606.9"/>
<path class="k" d="M469.6 622.9L482.4 614.6" style="stroke-width:4.6"/>
<path class="k" d="M473.6 643.4L488.6 631.6"/>
<circle class="k" cx="494.3" cy="621.7" r="8.8" style="fill:#fff"/>
<path class="l" d="M498.8 619.3C498.2 619.3 496.1 618.5 495.3 618.9C494.4 619.4 493.5 621.2 493.7 622.3C493.8 623.4 495.8 624.8 496.2 625.3"/>
<path class="k" d="M542.6 592.1L558.4 601.6L559.8 605.5L556.4 609.1L550.5 606.3L538.7 601.6" style="stroke-width:3"/>
<ellipse cx="535.8" cy="593" rx="8.6" ry="7.6" transform="rotate(28 535.8 593)" style="fill:#fff;stroke:#000;stroke-width:4"/>
<path class="k" d="M535.1 593.7L543 596.4" style="stroke-width:3"/>
<path class="k" d="M548.2 599.2L546.2 603.2" style="stroke-width:3"/>
<path class="k" d="M551.7 601.2L549.7 605.1" style="stroke-width:3"/>
<path class="k" d="M555.3 603.2L553.3 607.5" style="stroke-width:3"/>

<!-- inlet -->
<path class="k" d="M92.6 615.4C92.3 612.1 92.7 609.5 94.6 607.2C96.5 604.9 100.6 603.1 104.1 601.6C107.7 600.1 112 598.5 115.7 598.3C119.3 598.1 120.7 598.2 126.2 600.3C131.7 602.3 140.7 607 148.6 610.5C156.4 614 167.7 618 173.2 621.3C178.7 624.6 179.6 626.8 181.4 630.2C183.3 633.6 183.8 637.9 184.1 641.7C184.4 645.5 184.4 650.2 183.4 653.2C182.4 656.2 180.4 658.2 178.2 659.8C175.9 661.4 172.9 663.1 169.9 663.1C166.9 663.1 165.8 662.3 160.1 659.8C154.3 657.3 144.2 652.4 135.4 648.3C126.6 644.2 113.9 638.7 107.4 635.1C101 631.6 99 630.2 96.6 626.9C94.1 623.6 93 618.7 92.6 615.4Z"/>
<path class="l" d="M98.6 616.1C98.9 615 98.9 611.3 100.5 609.5C102.2 607.6 105.6 606 108.4 604.9C111.2 603.8 114.3 602.9 117.3 602.9C120.3 602.9 121 602.8 126.2 604.9C131.4 607 141.4 612.1 148.6 615.4C155.7 618.7 164.3 621.6 168.9 624.6C173.6 627.6 174.6 630.4 176.2 633.5C177.7 636.6 178 640.3 178.2 643.4C178.3 646.4 177.8 649.4 176.8 651.6C175.9 653.7 173 655.4 172.2 656.2"/>
<path class="l" d="M104.5 617.4C104.3 615.7 104.6 614.1 105.8 612.8C107 611.4 109.5 610.1 111.7 609.5C113.9 608.8 114.5 607.4 118.9 608.8C123.4 610.2 131.4 614.6 138.7 618C145.9 621.4 157.8 626.4 162.4 629.2C167 632.1 165.5 632.9 166.3 635.1C167.1 637.3 167.2 640.3 167 642.4C166.8 644.5 166 646.5 165 647.6C164 648.7 165.4 650.4 161.1 648.9C156.7 647.5 146.5 642.7 138.7 639.1C130.8 635.5 119.3 630 114 627.2C108.8 624.5 108.7 624.3 107.1 622.6C105.5 621 104.7 619 104.5 617.4Z"/>
<path class="t" d="M110.4 618.7C110.8 619.5 108.3 620.5 113 623.3C117.7 626 131 631.6 138.7 635.1C146.4 638.6 155.7 642.8 159.1 644.3"/>
<path class="l" d="M135.4 600.9C138.7 600 148.6 598.2 155.1 595.7C161.7 593.1 168.8 588.8 174.9 585.8C180.9 582.8 185.7 579.6 191.3 577.9C197 576.1 205.8 575.7 208.8 575.3"/>
<path class="l" d="M184.7 647C186.9 645.8 193 643.4 197.9 640.1C202.8 636.7 209.4 629.5 214.3 626.9C219.3 624.3 225.3 624.7 227.5 624.3"/>

<!-- reson -->
<ellipse class="k" cx="379.9" cy="845.7" rx="23.6" ry="10.3"/>
<ellipse class="k" cx="379.6" cy="845.7" rx="16.2" ry="7.5"/>
<path class="k" d="M357 850.4C358.2 851.8 360.4 856.7 364.2 858.7C368 860.6 374.2 862.1 379.6 862.1C385 862.1 392.8 860.5 396.7 858.7C400.6 856.8 402.1 852.4 403.2 851.1"/>
<path class="l" d="M363.7 862.4C364.5 863.4 366 867 368.5 868.2C371 869.5 377 869.5 378.8 869.8"/>
<path class="k" d="M396 860.4L396 885.9" style="stroke-width:3.4"/>
<path class="l" d="M395.7 885.9L396.4 912.4"/>
<path class="l" d="M384.7 868.9C385.9 869.7 389.8 870.7 391.6 873.4C393.4 876 394.9 882.8 395.5 884.7"/>
<path class="k" d="M418.9 893.9C419.5 891 421.3 881.4 422.4 876.4C423.4 871.5 423.4 866.5 425.1 864.1C426.8 861.7 429.7 862.6 432.6 862.1C435.6 861.6 440.8 860.6 442.9 861.1C444.9 861.5 444.6 863.4 444.9 864.8C445.3 866.2 444.4 868.5 444.9 869.6C445.5 870.7 447.6 870.5 448 871.7C448.4 872.9 448.3 874.1 447.3 876.8C446.3 879.4 443.9 884.1 442 887.6C440.2 891.1 437.3 896.1 436.4 897.8"/>
<path class="k" d="M428.9 866.5L423.7 896.1"/>
<path class="l" d="M432.6 868.2L429.2 897.3"/>
<path class="l" d="M428.9 866.5L441.2 864.1"/>
<path class="k" d="M434.7 869.6L432.6 895.3"/>
<path class="k" d="M437.8 870.6L442.9 873.4" style="stroke-width:3.2"/>
<path class="k" d="M439.5 874.4L444.9 877.3" style="stroke-width:3.2"/>
<path class="l" d="M436.9 878.2L434.7 896.1"/>
<path class="l" d="M398.4 876.4L418.9 888.8"/>
<path class="k" d="M399.3 895.3L415.5 899.7L418.9 893.9"/>
<path class="k" d="M398.4 913.2L425.8 902.4L436.4 897.8"/>
<path class="l" d="M403.6 913.7L428.4 904.2"/>
<path class="k" d="M339.2 826.3L339.2 839.3"/>
<path class="k" d="M344.3 826.3L344.3 839.3"/>
<path class="k" d="M339.2 826.7C339.6 826.4 340.9 825.1 341.8 825.1C342.6 825.1 343.9 826.4 344.3 826.7"/>
<path class="l" d="M339.2 829.9L344.3 829.9"/>
<path class="l" d="M339.2 833L344.3 833"/>
<path class="l" d="M339.2 836.2L344.3 836.2"/>
<path class="k" d="M329.9 840.1L336.8 837L348.7 837.8L353.8 841.7L353.4 845.3L350.7 849.6L339.2 850.8L331.7 846.4Z"/>
<path class="l" d="M329.9 840.1L339.2 844.1L353.8 841.7"/>
<path class="l" d="M339.2 844.1L339.2 850.8"/>
<path class="k" d="M317.1 857.9C317.2 857 317.1 854.1 317.9 852.8C318.7 851.4 319.7 850.7 321.8 849.8C324 848.9 329.4 848 330.9 847.6"/>
<path class="k" d="M317.1 857.9C317.3 859 317 862.9 318.1 864.6C319.1 866.3 321.5 867.1 323.4 868.4C325.3 869.6 327.4 871.7 329.3 871.9C331.3 872.1 333.3 870.5 335.3 869.7C337.2 869 340.2 867.8 341.2 867.4"/>
<path class="k" d="M321.4 855.1L340 865.8"/>
<path class="l" d="M341.2 867.4L360.9 862.2"/>
<path class="l" d="M350.7 849.6L360.5 859.5"/>
<path class="k" d="M317.1 858.7C316.8 859.3 318.4 861.2 315.1 862.6C311.8 864.1 303.6 865.7 297.4 867.4C291.2 869.1 282 871.2 278 872.9C274.1 874.5 274.5 875.8 273.7 877.2C272.8 878.7 272.2 879.9 272.9 881.6C273.6 883.2 276 885.7 277.6 887.1C279.3 888.5 280.4 889.5 282.8 890.1C285.1 890.6 288.5 889.1 291.8 890.3C295.2 891.4 300 896 302.9 897C305.8 898 306.2 898.4 309.2 896.2C312.2 893.9 317.4 887.4 321.1 883.6C324.7 879.7 329.6 875 331.3 873.3"/>
<circle class="l" cx="275.4" cy="880" r="2.4"/>
<path class="k" d="M332.1 876.6C332.9 877.4 335.3 880 336.8 881.2C338.4 882.3 337.2 883.6 341.2 883.6C345.1 883.6 352.8 882.3 360.5 881.2C368.2 880.1 382.9 877.6 387.4 876.8"/>
<path class="k" d="M342 887.1C339.8 889.1 332 896.1 328.9 899.3C325.9 902.6 324.6 904.3 323.4 906.8C322.2 909.4 322.2 912 321.8 914.7C321.5 917.4 321.5 921.6 321.4 923"/>
<path class="l" d="M331.3 873.3L360.9 865.8"/>
<path class="k" d="M282.8 894L282.8 909.2"/>
<path class="k" d="M289.5 894L289.5 908"/>
<circle class="k" cx="265.8" cy="896.6" r="5.6" style="stroke-width:3.2"/>
<path class="l" d="M272.1 891.4C272.8 891.1 274.8 889.6 276.1 889.5C277.3 889.3 279 890.5 279.6 890.7"/>
<path class="l" d="M272.1 898.9C272.9 898.9 275.7 898.2 276.6 898.6C277.6 898.9 277.5 900.9 277.6 901.3"/>
<path class="k" d="M266 905.1C266.9 906.5 267.3 911.5 271.6 913.4C275.8 915.3 283 914.4 291.4 916.7C299.9 919 317.2 925.5 322.4 927.2"/>
<path class="k" d="M322.4 927.2L396.4 917.3L423.5 911.2L424.6 915.6"/>
<path class="l" d="M271.6 908.4C274.9 909.2 282.9 910.3 291.4 912.8C300 915.4 317.7 922.1 322.9 923.9"/>
<path class="l" d="M322.9 923.9L395.1 913.9"/>
<path class="k" d="M371.6 923.9L419.1 915.6" style="stroke-width:3.2"/>
<path class="k" d="M271 913.9C271.2 921.3 271.6 945.3 272.1 958.2C272.6 971.1 272.5 984.3 273.8 991.3C275.1 998.3 276.2 998.5 279.8 1000.2C283.5 1001.9 293 1001.3 295.6 1001.5"/>
<path class="k" d="M285.9 917.3L284.8 999.6"/>
<path class="t" d="M280.9 916.7L280.4 996.8"/>
<path class="l" d="M291.4 918.9L298.6 1001"/>
<path class="k" d="M323.2 927.2L324.9 1013.4"/>
<path class="k" d="M298.6 1001C300.4 1002.6 305 1008.4 309.4 1010.7C313.8 1012.9 322.3 1013.7 324.9 1014.2"/>
<path class="k" d="M324.9 1014.2C330.8 1013.7 350.9 1012.3 360.5 1011.2C370.2 1010.2 376.9 1009.3 382.6 1007.9C388.4 1006.5 392.2 1004.8 395.1 1002.9C397.9 1001.1 399 997.9 399.8 996.8"/>
<path class="k" d="M424.6 915.6C423.2 921.3 419 938.6 415.8 949.9C412.6 961.1 408 975.2 405.3 983C402.6 990.9 400.7 994.5 399.8 996.8"/>
<path class="k" d="M395.3 930L393.7 1002.9"/>
<path class="l" d="M323.2 938.8L395.1 930.5L415.8 925.6"/>
<path class="t" d="M324.1 941.3L394.5 933"/>
<path class="l" d="M323.2 950.4L395.1 942.1L413.8 937.2"/>
<path class="t" d="M324.1 952.9L394.5 944.6"/>
<path class="l" d="M323.2 962L395.1 953.7L411.8 948.8"/>
<path class="t" d="M324.1 964.5L394.5 956.2"/>
<path class="l" d="M323.2 974.2L395.1 965.9L409.8 960.9"/>
<path class="t" d="M324.1 976.7L394.5 968.4"/>
<path class="l" d="M323.2 986.3L395.1 978.1L407.7 973.1"/>
<path class="t" d="M324.1 988.8L394.5 980.5"/>
<path class="l" d="M323.2 999.1L395.1 990.8L405.5 985.8"/>
<path class="t" d="M324.1 1001.5L394.5 993.2"/>
<path class="l" d="M291.4 920.9L323.2 938.8"/>
<path class="l" d="M293.7 935.5L323.2 950.4"/>
<path class="l" d="M295 948.5L323.2 962"/>
<path class="l" d="M296.4 961.5L323.5 974.2"/>
<path class="l" d="M297.2 974.7L324.1 986.3"/>
<path class="l" d="M298.1 988L324.1 999.1"/>
<path class="l" d="M299.2 999.1L324.6 1011.8"/>

<!-- small -->
<path class="k" d="M335.4 803.8C335.5 802.6 335.5 800.8 336.2 799.8C336.9 798.8 338.3 798.1 339.7 797.8C341.2 797.6 343.3 797.8 344.7 798.4C346.1 799.1 347.5 800.5 348 801.8C348.6 803.1 348.6 805.1 348 806.3C347.5 807.5 346.1 808.6 344.7 809.1C343.2 809.5 340.8 809.5 339.3 809.1C337.9 808.7 336.4 807.6 335.8 806.7C335.1 805.8 335.3 804.9 335.4 803.8Z" style="stroke-width:3"/>
<path class="k" d="M337.8 798.4C337.9 797.9 337.8 795.9 338.8 795.3C339.7 794.7 342.6 794.3 343.7 794.9C344.8 795.4 345 797.8 345.3 798.4"/>
<path class="l" d="M339.7 803.8C340.1 804.2 341.3 806.3 342.1 806.3C342.9 806.3 344.1 804 344.5 803.6"/>
<path class="k" d="M405.3 805.7L418.3 804.7L427.6 809.1L428.2 827.4L412.8 832L406.8 825.5Z" style="stroke-width:3"/>
<path class="k" d="M412.8 810.3L427.6 809.1"/>
<path class="k" d="M412.8 810.3L412.8 832" style="stroke-width:3"/>
<path class="k" d="M408.8 807.1L409.2 827.4" style="stroke-width:4"/>
<path class="l" d="M422.6 814.6C422 814.5 419.5 813.6 418.7 814.2C417.9 814.9 417.7 817.2 417.7 818.6C417.7 819.9 418.5 821.8 418.7 822.5"/>
<path class="l" d="M415.7 818.9L422.2 818.6"/>
<path class="l" d="M415.7 823.5L424.6 822.5"/>
<path class="k" d="M220 907C220.2 905.3 220.4 902.8 221.6 901.1C222.7 899.3 225 897.4 226.8 896.4C228.7 895.5 230.9 895.1 232.8 895.5C234.6 896 236.7 897.4 238 899.1C239.3 900.8 240.3 903.4 240.7 905.7C241 908 240.9 911 240 912.9C239.1 914.8 237.3 916.4 235.4 917.1C233.5 917.8 230.9 917.5 228.8 917.1C226.7 916.7 224.3 915.5 222.9 914.5C221.5 913.4 220.7 912.2 220.3 910.9C219.8 909.7 219.8 908.6 220 907Z" style="stroke-width:3.2"/>
<path class="k" d="M227.5 899.7C227.9 900.8 229.8 903.9 230.1 906.3C230.5 908.8 229.6 913.1 229.5 914.5"/>
<path class="k" d="M232.1 898.4C232.7 899.7 235.1 903.6 235.4 906.3C235.7 909.1 234.3 913.4 234.1 914.9"/>
<path class="l" d="M223.9 903C224.3 903.9 225.6 906.5 225.8 908.3C225.9 910 225 912.7 224.9 913.6"/>

<!-- footer -->
<rect x="547" y="434" width="68" height="26.8" fill="rgba(255,0,0,0.5)"/>
<rect x="0" y="1112" width="760" height="76" fill="#666"/>
<g class="ft tx" font-size="31">
<text x="136.5" y="1163.8" textLength="299" lengthAdjust="spacingAndGlyphs">TOYOTA - 1780128010</text>
<text x="490.7" y="1163.8" textLength="124" lengthAdjust="spacingAndGlyphs">N - 17801</text>
</g>

</svg>
</body></html>
